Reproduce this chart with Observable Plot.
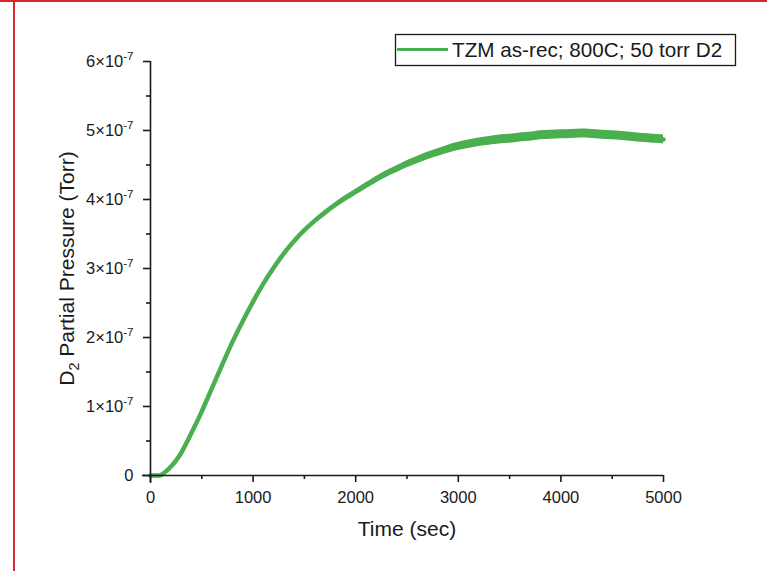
<!DOCTYPE html>
<html><head><meta charset="utf-8">
<script src="https://cdn.jsdelivr.net/npm/d3@7"></script>
<script src="https://cdn.jsdelivr.net/npm/@observablehq/plot@0.6"></script>
<style>
body{margin:0;background:#fff;}
#wrap{position:relative;width:767px;height:571px;overflow:hidden;background:#fff;}
#wrap svg{position:absolute;left:0;top:0;}
.red{position:absolute;background:#d7282f;z-index:2;}
</style></head><body>
<div id="wrap">
<div class="red" style="left:0;top:0;width:767px;height:2px"></div>
<div class="red" style="left:13px;top:0;width:2px;height:571px"></div>
</div>
<script>
// Data (pressure in units of 1e-7 Torr)
const timeSec = [0,50,100,150,200,250,300,350,400,450,500,600,700,800,900,1000,1100,1200,1300,1400,1500,1600,1700,1800,1900,2000,2100,2200,2300,2400,2500,2600,2700,2800,2900,3000,3100,3200,3300,3400,3500,3600,3700,3800,3900,4000,4100,4200,4300,4400,4500,4600,4700,4800,4900,5000];
const pressureE7 = [0,0,0.005,0.06,0.13,0.22,0.33,0.47,0.62,0.77,0.93,1.27,1.61,1.94,2.24,2.52,2.78,3.01,3.22,3.40,3.555,3.69,3.81,3.92,4.02,4.11,4.20,4.29,4.37,4.44,4.51,4.57,4.63,4.68,4.73,4.77,4.80,4.83,4.85,4.87,4.88,4.90,4.91,4.93,4.94,4.945,4.95,4.955,4.95,4.94,4.93,4.92,4.905,4.89,4.88,4.87];
// half-width of the noisy band (1e-7 Torr)
const noiseE7 = [0,0,0,0,0,0,0,0,0,0,0,0,0,0,0.005,0.01,0.013,0.016,0.019,0.022,0.025,0.028,0.031,0.034,0.037,0.04,0.042,0.044,0.046,0.048,0.05,0.052,0.054,0.056,0.058,0.06,0.061,0.062,0.063,0.064,0.065,0.065,0.065,0.065,0.065,0.065,0.065,0.065,0.065,0.065,0.065,0.065,0.065,0.065,0.065,0.065];
const xTicks = [0,1000,2000,3000,4000,5000];
const xMinorTicks = [500,1500,2500,3500,4500];
const yTicksE7 = [0,1,2,3,4,5,6];
const yMinorTicksE7 = [0.5,1.5,2.5,3.5,4.5,5.5];
const seriesLabel = "TZM as-rec; 800C; 50 torr D2";
const xLabel = "Time (sec)";
const yLabel = "D_2 Partial Pressure (Torr)";

const green = "#4bae4f";
const ink = "#1a1a1a";
const data = timeSec.map((t, i) => ({
  t,
  p: pressureE7[i] * 1e-7,
  lo: (pressureE7[i] - noiseE7[i]) * 1e-7,
  hi: (pressureE7[i] + noiseE7[i]) * 1e-7
}));
const yTicks = yTicksE7.map(v => v * 1e-7);
const yMinorTicks = yMinorTicksE7.map(v => v * 1e-7);

const plot = Plot.plot({
  width: 767, height: 571,
  marginTop: 61, marginBottom: 96, marginLeft: 150, marginRight: 104,
  x: {domain: [0, 5000]},
  y: {domain: [0, 6e-7]},
  style: {fontFamily: "'Liberation Sans', Arial, sans-serif", fontSize: "16.5px", background: "transparent", color: ink, overflow: "visible"},
  marks: [
    Plot.areaY(data, {x: "t", y1: "lo", y2: "hi", fill: green, curve: "catmull-rom"}),
    Plot.line(data, {x: "t", y: "p", stroke: green, strokeWidth: 4.5, curve: "catmull-rom"}),
    Plot.ruleY([0], {insetLeft: -8, stroke: ink, strokeWidth: 1.6}),
    Plot.ruleX([0], {insetBottom: -8, stroke: ink, strokeWidth: 1.6}),
    Plot.axisX({ticks: xTicks, tickSize: 7, tickPadding: 9, tickFormat: d => String(d), strokeWidth: 1.6, label: null}),
    Plot.axisX({ticks: xMinorTicks, tickSize: 4, text: null, strokeWidth: 1.6, label: null}),
    Plot.axisY({ticks: yTicks, tickSize: 7, tickPadding: 10, strokeWidth: 1.6, label: null,
      tickFormat: d => Math.abs(d) < 1e-12 ? "0" : `${Math.round(d * 1e7)}×10^-7`}),
    Plot.axisY({ticks: yMinorTicks, tickSize: 4, text: null, strokeWidth: 1.6, label: null}),
    Plot.text([xLabel], {text: d => d, frameAnchor: "bottom", dy: 60, textAnchor: "middle", lineAnchor: "bottom", fontSize: 21, fill: ink}),
    Plot.text([yLabel], {text: d => d, frameAnchor: "left", dx: -77, rotate: -90, textAnchor: "middle", lineAnchor: "bottom", fontSize: 21, fill: ink})
  ]
});

const svg = d3.select(plot);
svg.selectAll("text").each(function() {
  const s = d3.select(this);
  const t = this.textContent;
  if (t.includes("^")) {
    const [base, exp] = t.split("^");
    s.text(base);
    s.append("tspan").attr("dy", -6.5).attr("font-size", 11.5).text(exp);
  } else if (t.includes("_")) {
    const i = t.indexOf("_");
    const before = t.slice(0, i), sub = t[i + 1], after = t.slice(i + 2);
    s.text(before);
    s.append("tspan").attr("dy", 5).attr("font-size", 14.5).text(sub);
    s.append("tspan").attr("dy", -5).text(after);
  }
});

// Legend
const lg = svg.append("g").attr("text-anchor", "start");
lg.append("rect").attr("x", 395.5).attr("y", 34.5).attr("width", 340).attr("height", 31)
  .attr("fill", "#fff").attr("stroke", ink).attr("stroke-width", 1.3);
lg.append("line").attr("x1", 397).attr("x2", 448).attr("y1", 49.5).attr("y2", 49.5)
  .attr("stroke", green).attr("stroke-width", 2.8);
lg.append("text").attr("x", 452).attr("y", 57).attr("font-size", 20.7).attr("text-anchor", "start").attr("fill", ink).text(seriesLabel);

document.getElementById("wrap").appendChild(plot);
</script>
</body></html>
